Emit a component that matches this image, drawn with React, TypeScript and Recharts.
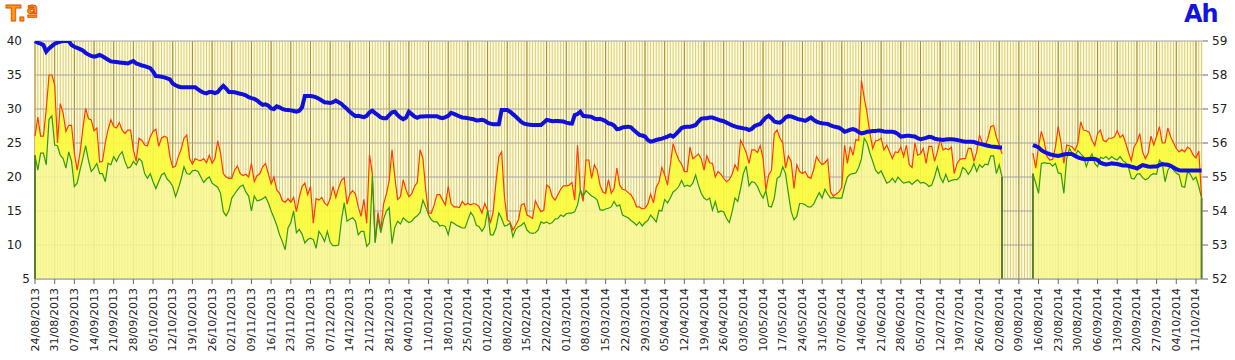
import {
  ComposedChart,
  Area,
  Line,
  XAxis,
  YAxis,
  CartesianGrid,
  ReferenceLine,
} from "recharts";

// ─── Data (one value per day, starting 24/08/2013) ───
const maxT: (number | null)[] = [
  26.0, 28.8, 26.0, 26.0, 30.0, 35.0, 35.0,
  33.5, 25.0, 30.8, 29.4, 26.7, 27.6, 27.6,
  23.5, 21.0, 23.5, 27.0, 30.1, 28.6, 28.4,
  26.8, 27.2, 22.2, 22.3, 25.0, 27.0, 28.4,
  27.4, 27.2, 28.0, 26.9, 26.4, 26.9, 26.9,
  24.0, 22.3, 25.7, 25.4, 24.7, 24.6, 25.9,
  26.7, 27.0, 24.5, 25.7, 26.0, 25.8, 23.0,
  21.4, 21.6, 23.0, 24.1, 25.7, 26.2, 22.7,
  21.9, 22.7, 22.5, 22.4, 22.7, 22.1, 23.2,
  22.0, 22.7, 25.3, 23.5, 20.5, 20.0, 19.8,
  19.8, 21.0, 21.6, 20.5, 20.2, 20.4, 20.0,
  22.0, 19.3, 20.2, 20.5, 21.5, 22.0, 20.5,
  19.0, 20.0, 18.1, 17.6, 16.5, 16.3, 16.8,
  16.3, 17.0, 14.9, 17.0, 18.6, 19.1, 17.4,
  18.6, 13.2, 16.8, 16.6, 17.0, 16.2, 15.8,
  16.8, 18.6, 17.0, 18.4, 19.5, 19.9, 16.0,
  17.5, 18.0, 17.5, 15.6, 14.2, 16.7, 13.2,
  23.3, 20.5, 10.5, 14.8, 12.2, 16.0, 17.5,
  19.5, 24.0, 20.0, 16.7, 17.1, 19.6, 18.1,
  17.1, 17.5, 18.6, 19.2, 24.0, 22.7, 18.1,
  14.7, 14.7, 15.9, 17.4, 17.4, 16.6, 15.9,
  18.6, 16.1, 15.6, 15.6, 15.5, 16.4, 15.9,
  16.1, 15.9, 16.1, 16.0, 15.6, 14.7, 16.1,
  15.1, 13.2, 14.9, 19.3, 23.0, 23.7, 17.1,
  13.7, 13.4, 12.2, 12.9, 13.7, 15.9, 16.1,
  14.4, 14.2, 13.9, 16.5, 15.6, 14.9, 15.1,
  18.8, 18.5, 17.1, 16.6, 17.4, 18.2, 18.7,
  18.7, 18.8, 19.2, 16.6, 24.7, 18.1, 16.4,
  22.5, 22.5, 19.8, 21.8, 21.0, 18.8, 17.8,
  17.6, 19.6, 17.6, 18.3, 21.3, 18.8, 18.2,
  18.1, 17.7, 17.4, 16.7, 15.6, 15.6, 15.3,
  15.4, 16.0, 17.5, 16.2, 18.5, 19.3, 21.4,
  20.3, 18.8, 21.8, 24.9, 23.6, 22.5, 21.9,
  20.8, 20.8, 24.4, 22.7, 23.0, 23.4, 22.7,
  21.0, 23.1, 22.1, 22.0, 20.0, 20.8, 20.4,
  19.8, 19.3, 19.6, 20.4, 21.8, 21.0, 25.4,
  24.6, 23.6, 22.0, 24.0, 24.0, 23.6, 24.6,
  22.7, 18.1, 20.3, 21.0, 26.4, 26.9, 25.7,
  25.0, 21.3, 23.1, 22.3, 18.3, 21.8, 20.8,
  20.5, 20.8, 20.0, 19.8, 21.1, 23.0, 22.3,
  21.8, 22.1, 22.6, 17.8, 17.2, 17.5, 17.8,
  18.5, 24.7, 22.0, 24.5, 23.2, 25.5, 25.4,
  34.2, 31.6, 29.4, 26.4, 24.2, 25.3, 25.4,
  25.7, 24.0, 24.7, 23.7, 22.7, 23.7, 23.6,
  24.4, 23.0, 24.7, 21.8, 21.4, 25.0, 23.2,
  23.4, 24.2, 22.0, 24.5, 24.5, 22.3, 23.7,
  25.5, 24.0, 24.2, 24.0, 24.4, 20.5, 22.0,
  22.6, 22.7, 22.7, 24.2, 24.2, 22.3, 23.7,
  26.2, 25.0, 24.6, 25.7, 27.4, 27.6, 25.9,
  24.7, 23.4,
  null, null, null, null, null, null, null, null, null, null,
  23.5, 21.3, 24.5, 26.7, 25.2, 23.0, 22.5,
  22.6, 24.4, 27.4, 25.0, 22.0, 24.7, 24.6,
  24.4, 23.9, 25.0, 28.1, 26.9, 26.8, 26.6,
  25.4, 24.6, 26.4, 26.9, 25.4, 25.2, 25.7,
  25.7, 25.9, 26.8, 25.8, 26.2, 25.0, 23.6,
  22.4, 24.5, 25.1, 26.4, 23.7, 22.7, 23.5,
  26.0, 24.7, 26.0, 27.4, 25.0, 25.0, 27.2,
  25.9, 25.0, 24.2, 23.7, 24.0, 23.7, 24.4,
  24.1, 23.2, 22.8, 23.8, 17.0,
];

const minT: (number | null)[] = [
  23.2, 21.0, 23.5, 23.5, 21.8, 28.5, 29.0,
  24.7, 24.6, 23.2, 22.7, 21.3, 23.7, 22.3,
  18.6, 19.1, 21.0, 22.7, 24.6, 22.5, 20.8,
  21.3, 22.0, 20.5, 20.5, 19.3, 22.0, 21.8,
  23.0, 22.3, 23.2, 23.7, 22.3, 21.3, 21.5,
  22.3, 21.8, 22.7, 22.3, 20.5, 19.8, 20.5,
  19.3, 18.3, 19.3, 20.3, 20.6, 19.7, 19.3,
  18.6, 17.1, 18.3, 19.7, 21.5, 20.5, 20.4,
  20.9, 21.0, 20.8, 20.0, 19.2, 19.7, 20.0,
  19.1, 18.8, 18.5, 17.6, 14.9, 14.3, 15.1,
  16.9, 17.5, 18.1, 18.6, 18.8, 17.8, 17.2,
  15.0, 17.2, 16.5, 16.6, 16.8, 17.1, 16.2,
  15.0, 14.0, 12.9, 11.5, 10.5, 9.3, 12.5,
  13.3, 15.0, 11.8, 12.3, 11.6, 10.3, 10.8,
  11.0, 10.8, 9.5, 12.0, 11.4, 10.5, 12.0,
  10.4, 9.9, 9.9, 10.0, 13.6, 16.2, 13.5,
  13.8, 14.0, 13.5, 11.5, 12.0, 12.0, 9.8,
  10.3, 20.2, 10.3, 14.0, 11.8, 13.8, 15.0,
  15.5, 10.2, 12.6, 13.5, 13.1, 14.0, 13.6,
  13.3, 13.5, 14.0, 14.3, 14.8, 16.6, 15.6,
  14.4, 13.7, 13.4, 13.4, 12.8, 12.9, 12.7,
  11.5, 13.4, 13.2, 12.9, 12.7, 12.5, 12.5,
  13.7, 14.8, 14.2, 12.9, 12.7, 12.0, 12.7,
  15.1, 11.5, 11.5, 12.5, 14.7, 13.9, 12.8,
  12.9, 13.2, 11.2, 12.3, 12.7, 12.9, 13.3,
  12.2, 11.8, 11.7, 11.8, 12.2, 13.4, 13.2,
  13.4, 13.1, 13.3, 13.8, 13.9, 14.4, 14.2,
  14.6, 14.7, 14.7, 14.9, 15.9, 18.1, 17.2,
  18.0, 17.6, 17.2, 17.0, 16.6, 15.2, 15.1,
  15.3, 15.4, 15.6, 16.4, 15.7, 15.9, 14.4,
  14.2, 14.0, 13.6, 13.3, 12.9, 13.4, 12.8,
  13.3, 13.6, 14.4, 13.9, 13.4, 15.1, 15.0,
  16.7, 16.2, 16.9, 17.8, 18.1, 18.6, 19.5,
  18.6, 18.8, 18.6, 19.1, 20.3, 18.8, 17.6,
  16.9, 16.6, 16.9, 15.1, 16.4, 14.8, 15.0,
  14.9, 13.9, 13.3, 14.9, 16.9, 16.4, 18.3,
  20.5, 21.6, 18.7, 19.3, 19.2, 18.6, 17.6,
  16.9, 18.0, 15.7, 15.6, 16.9, 19.8, 20.1,
  21.5, 20.5, 17.6, 14.9, 13.7, 14.2, 16.1,
  16.1, 15.9, 15.6, 15.6, 16.0, 16.9, 17.7,
  16.9, 18.2, 17.5, 16.9, 17.0, 16.9, 16.9,
  16.9, 18.6, 20.0, 20.4, 20.5, 20.6, 21.4,
  22.7, 25.7, 25.0, 23.5, 22.3, 21.0, 20.5,
  20.9, 20.0, 19.1, 19.3, 19.8, 19.2, 20.0,
  19.5, 19.1, 19.2, 19.3, 18.9, 19.3, 19.6,
  19.1, 19.2, 19.0, 18.6, 18.8, 20.0, 21.5,
  20.0, 19.2, 20.4, 19.3, 19.5, 19.6, 19.6,
  20.0, 21.4, 21.1, 20.4, 21.0, 22.0, 20.8,
  21.8, 21.4, 21.9, 21.8, 23.1, 23.1, 20.5,
  21.8, 20.0,
  null, null, null, null, null, null, null, null, null, null,
  20.5, 19.1, 17.6, 22.0, 22.1, 22.0, 22.0,
  21.6, 22.0, 20.6, 20.5, 17.6, 22.7, 24.2,
  23.4, 23.2, 23.9, 23.4, 23.0, 21.5, 22.7,
  23.4, 22.0, 21.5, 22.9, 22.7, 23.0, 22.6,
  23.0, 22.7, 22.5, 23.0, 22.4, 22.1, 21.4,
  19.8, 19.7, 20.4, 20.5, 19.9, 19.6, 19.8,
  20.3, 20.5, 20.4, 22.5, 22.0, 19.3, 21.0,
  21.6, 21.0, 20.6, 20.3, 18.6, 18.5, 20.8,
  20.4, 19.6, 20.0, 18.6, 16.9,
];

const ahValues: (number | null)[] = [
  59.0, 58.95, 58.92, 58.88, 58.69, 58.78, 58.85,
  58.92, 58.95, 58.98, 59.0, 59.0, 59.0, 58.88,
  58.83, 58.8, 58.76, 58.72, 58.65, 58.6, 58.56,
  58.54, 58.56, 58.59, 58.55, 58.5, 58.45, 58.4,
  58.39, 58.38, 58.37, 58.36, 58.35, 58.34, 58.38,
  58.41, 58.34, 58.31, 58.28, 58.26, 58.23, 58.2,
  58.1, 57.97, 57.96, 57.95, 57.93, 57.9, 57.87,
  57.75, 57.7, 57.66, 57.64, 57.64, 57.64, 57.64,
  57.64, 57.64, 57.58, 57.52, 57.48, 57.46, 57.5,
  57.5, 57.47, 57.5, 57.6, 57.68, 57.6, 57.5,
  57.5, 57.49, 57.47, 57.45, 57.43, 57.4, 57.35,
  57.32, 57.3, 57.25, 57.18, 57.12, 57.14, 57.1,
  57.02, 57.0, 57.08, 57.05, 57.0, 56.98, 56.97,
  56.96, 56.94, 56.92, 56.95, 57.05, 57.38, 57.38,
  57.38, 57.37, 57.34, 57.3, 57.25, 57.2, 57.19,
  57.18, 57.2, 57.25, 57.2, 57.15, 57.07, 57.0,
  56.92, 56.85, 56.79, 56.8, 56.78, 56.76, 56.8,
  56.9, 56.95, 56.88, 56.82, 56.75, 56.73, 56.73,
  56.82, 56.9, 56.92, 56.82, 56.75, 56.7, 56.75,
  56.92, 56.85, 56.78, 56.74, 56.78, 56.78, 56.79,
  56.79, 56.79, 56.79, 56.79, 56.75, 56.73, 56.76,
  56.8, 56.89, 56.86, 56.82, 56.78, 56.75, 56.74,
  56.73, 56.71, 56.7, 56.66, 56.67, 56.68, 56.66,
  56.6, 56.57, 56.55, 56.55, 56.55, 56.97, 56.97,
  56.97, 56.92, 56.85, 56.78, 56.7, 56.62, 56.57,
  56.55, 56.54, 56.53, 56.53, 56.53, 56.53, 56.6,
  56.68, 56.66, 56.64, 56.65, 56.65, 56.64, 56.63,
  56.6, 56.58, 56.57, 56.82, 56.85, 56.92, 56.8,
  56.79, 56.78, 56.77, 56.72, 56.7, 56.71, 56.68,
  56.64, 56.58, 56.56, 56.51, 56.41, 56.42, 56.46,
  56.47, 56.48, 56.46, 56.38, 56.31, 56.24, 56.22,
  56.19, 56.09, 56.04, 56.06, 56.09, 56.11, 56.13,
  56.16, 56.19, 56.23, 56.19, 56.26, 56.35, 56.44,
  56.47, 56.48, 56.48, 56.5, 56.53, 56.63, 56.71,
  56.73, 56.73, 56.75, 56.75, 56.72, 56.69, 56.66,
  56.64, 56.6, 56.56, 56.52, 56.49, 56.46, 56.45,
  56.43, 56.42, 56.38, 56.42, 56.5, 56.53, 56.56,
  56.66, 56.75, 56.8, 56.73, 56.63, 56.61, 56.6,
  56.66, 56.75, 56.79, 56.78, 56.75, 56.72, 56.69,
  56.68, 56.65, 56.7, 56.75, 56.68, 56.63, 56.6,
  56.58, 56.57, 56.56, 56.52, 56.49, 56.47, 56.45,
  56.4, 56.33, 56.36, 56.39, 56.41, 56.38, 56.32,
  56.28, 56.3, 56.33, 56.34, 56.35, 56.35, 56.37,
  56.36, 56.34, 56.33, 56.33, 56.33, 56.31, 56.26,
  56.19, 56.2, 56.21, 56.21, 56.2, 56.19, 56.14,
  56.11, 56.13, 56.15, 56.18, 56.17, 56.13, 56.11,
  56.1, 56.09, 56.1, 56.11, 56.11, 56.1, 56.09,
  56.07, 56.05, 56.04, 56.04, 56.04, 56.03, 56.0,
  55.98, 55.96, 55.94, 55.92, 55.9, 55.89, 55.88,
  55.87, 55.87,
  null, null, null, null, null, null, null, null, null, null,
  55.94, 55.91, 55.87, 55.79, 55.74, 55.7, 55.67,
  55.65, 55.63, 55.62, 55.64, 55.66, 55.68, 55.68,
  55.67, 55.62, 55.58, 55.55, 55.53, 55.52, 55.53,
  55.54, 55.53, 55.5, 55.42, 55.39, 55.37, 55.38,
  55.4, 55.39, 55.38, 55.36, 55.34, 55.34, 55.33,
  55.3, 55.28, 55.25, 55.3, 55.35, 55.33, 55.31,
  55.3, 55.31, 55.31, 55.35, 55.38, 55.37, 55.36,
  55.33, 55.28, 55.23, 55.2, 55.19, 55.19, 55.19,
  55.19, 55.19, 55.19, 55.19, 55.19,
];

// weekly tick labels (one every 7 days)
const weekLabels = [
  "24/08/2013", "31/08/2013", "07/09/2013", "14/09/2013", "21/09/2013",
  "28/09/2013", "05/10/2013", "12/10/2013", "19/10/2013", "26/10/2013",
  "02/11/2013", "09/11/2013", "16/11/2013", "23/11/2013", "30/11/2013",
  "07/12/2013", "14/12/2013", "21/12/2013", "28/12/2013", "04/01/2014",
  "11/01/2014", "18/01/2014", "25/01/2014", "01/02/2014", "08/02/2014",
  "15/02/2014", "22/02/2014", "01/03/2014", "08/03/2014", "15/03/2014",
  "22/03/2014", "29/03/2014", "05/04/2014", "12/04/2014", "19/04/2014",
  "26/04/2014", "03/05/2014", "10/05/2014", "17/05/2014", "24/05/2014",
  "31/05/2014", "07/06/2014", "14/06/2014", "21/06/2014", "28/06/2014",
  "05/07/2014", "12/07/2014", "19/07/2014", "26/07/2014", "02/08/2014",
  "09/08/2014", "16/08/2014", "23/08/2014", "30/08/2014", "06/09/2014",
  "13/09/2014", "20/09/2014", "27/09/2014", "04/10/2014", "11/10/2014",
];

const tempTicks = [5, 10, 15, 20, 25, 30, 35, 40];
const ahTicks = [52, 53, 54, 55, 56, 57, 58, 59];

const data = maxT.map((mx, i) => ({
  day: i,
  max: mx,
  min: minT[i],
  ah: ahValues[i],
  band: mx == null || minT[i] == null ? null : [minT[i], mx],
}));

const dayValues = data.map((d) => d.day);
const weekTicks = weekLabels.map((_, i) => i * 7);

// first / last day of each run of data: the min area is closed there
const edges = data.filter(
  (d, i) =>
    d.min != null &&
    (i === 0 || minT[i - 1] == null || i === minT.length - 1 || minT[i + 1] == null)
);

const FONT = "'DejaVu Sans', Verdana, sans-serif";

const DateTick = ({ x, y, payload }: any) => (
  <text
    x={x}
    y={y}
    transform={`rotate(-90 ${x} ${y})`}
    textAnchor="end"
    dominantBaseline="central"
    fontSize={11}
    fontFamily={FONT}
    fill="#222"
  >
    {weekLabels[Math.round(payload.value / 7)]}
  </text>
);

const TempTick = ({ x, y, payload }: any) => (
  <text
    x={payload.value < 10 ? x + 8 : x}
    y={y}
    textAnchor="end"
    dominantBaseline="central"
    fontSize={12}
    fontFamily={FONT}
    fill="#222"
  >
    {payload.value}
  </text>
);

export default function App() {
  return (
    <div
      style={{
        position: "absolute",
        left: 0,
        top: 0,
        width: 1235,
        height: 360,
        background: "#fff",
        fontFamily: FONT,
      }}
    >
      <div
        style={{
          position: "absolute",
          left: 6,
          top: 3,
          fontSize: 22,
          lineHeight: 1,
          fontWeight: "bold",
          color: "#ff9a1e",
          WebkitTextStroke: "1px #e25400",
        }}
      >
        T.ª
      </div>
      <div
        style={{
          position: "absolute",
          left: 1184,
          top: 2,
          fontSize: 24,
          lineHeight: 1,
          fontWeight: "bold",
          letterSpacing: -1,
          color: "#1414e0",
        }}
      >
        Ah
      </div>

      <ComposedChart
        width={1235}
        height={360}
        data={data}
        margin={{ top: 41, right: 0, bottom: 0, left: 0 }}
      >
        {/* daily + weekly vertical lines on a pale yellow ground */}
        <CartesianGrid
          horizontal={false}
          verticalValues={dayValues}
          stroke="#d9cb7e"
          fill="#fefcd8"
        />
        <CartesianGrid
          horizontal={false}
          verticalValues={weekTicks}
          stroke="#a68a3e"
        />
        <CartesianGrid vertical={false} stroke="#a3a3a3" />

        <XAxis
          dataKey="day"
          type="number"
          domain={[0, 415.5]}
          ticks={weekTicks}
          interval={0}
          tick={<DateTick />}
          tickSize={5}
          tickMargin={4}
          tickLine={{ stroke: "#666" }}
          axisLine={{ stroke: "#999" }}
          height={81}
        />
        <YAxis
          domain={[5, 40]}
          ticks={tempTicks}
          allowDataOverflow
          width={35}
          tick={<TempTick />}
          tickSize={0}
          tickMargin={13}
          tickLine={false}
          axisLine={false}
        />
        <YAxis
          yAxisId="ah"
          orientation="right"
          domain={[52, 59]}
          ticks={ahTicks}
          allowDataOverflow
          width={32}
          tick={{ fontSize: 12, fill: "#222", fontFamily: FONT }}
          tickSize={5}
          tickMargin={4}
          tickLine={{ stroke: "#666" }}
          axisLine={false}
        />

        <Area
          dataKey="min"
          type="linear"
          baseValue="dataMin"
          stroke="none"
          fill="#f8f894"
          fillOpacity={0.85}
          dot={false}
          activeDot={false}
          isAnimationActive={false}
        />
        <Area
          dataKey="band"
          type="linear"
          stroke="none"
          fill="#fcfc3c"
          fillOpacity={0.9}
          dot={false}
          activeDot={false}
          isAnimationActive={false}
        />
        <Line
          dataKey="max"
          type="linear"
          stroke="#ff3a06"
          strokeWidth={1.2}
          dot={false}
          activeDot={false}
          isAnimationActive={false}
        />
        <Line
          dataKey="min"
          type="linear"
          stroke="#2f9a16"
          strokeWidth={1.2}
          dot={false}
          activeDot={false}
          isAnimationActive={false}
        />
        {edges.map((d) => (
          <ReferenceLine
            key={d.day}
            segment={[
              { x: d.day, y: 5 },
              { x: d.day, y: d.min as number },
            ]}
            stroke="#5b7d2c"
            strokeWidth={2}
            ifOverflow="visible"
          />
        ))}
        <Line
          yAxisId="ah"
          dataKey="ah"
          type="linear"
          stroke="#1010dc"
          strokeWidth={4}
          dot={false}
          activeDot={false}
          isAnimationActive={false}
        />
      </ComposedChart>
    </div>
  );
}
